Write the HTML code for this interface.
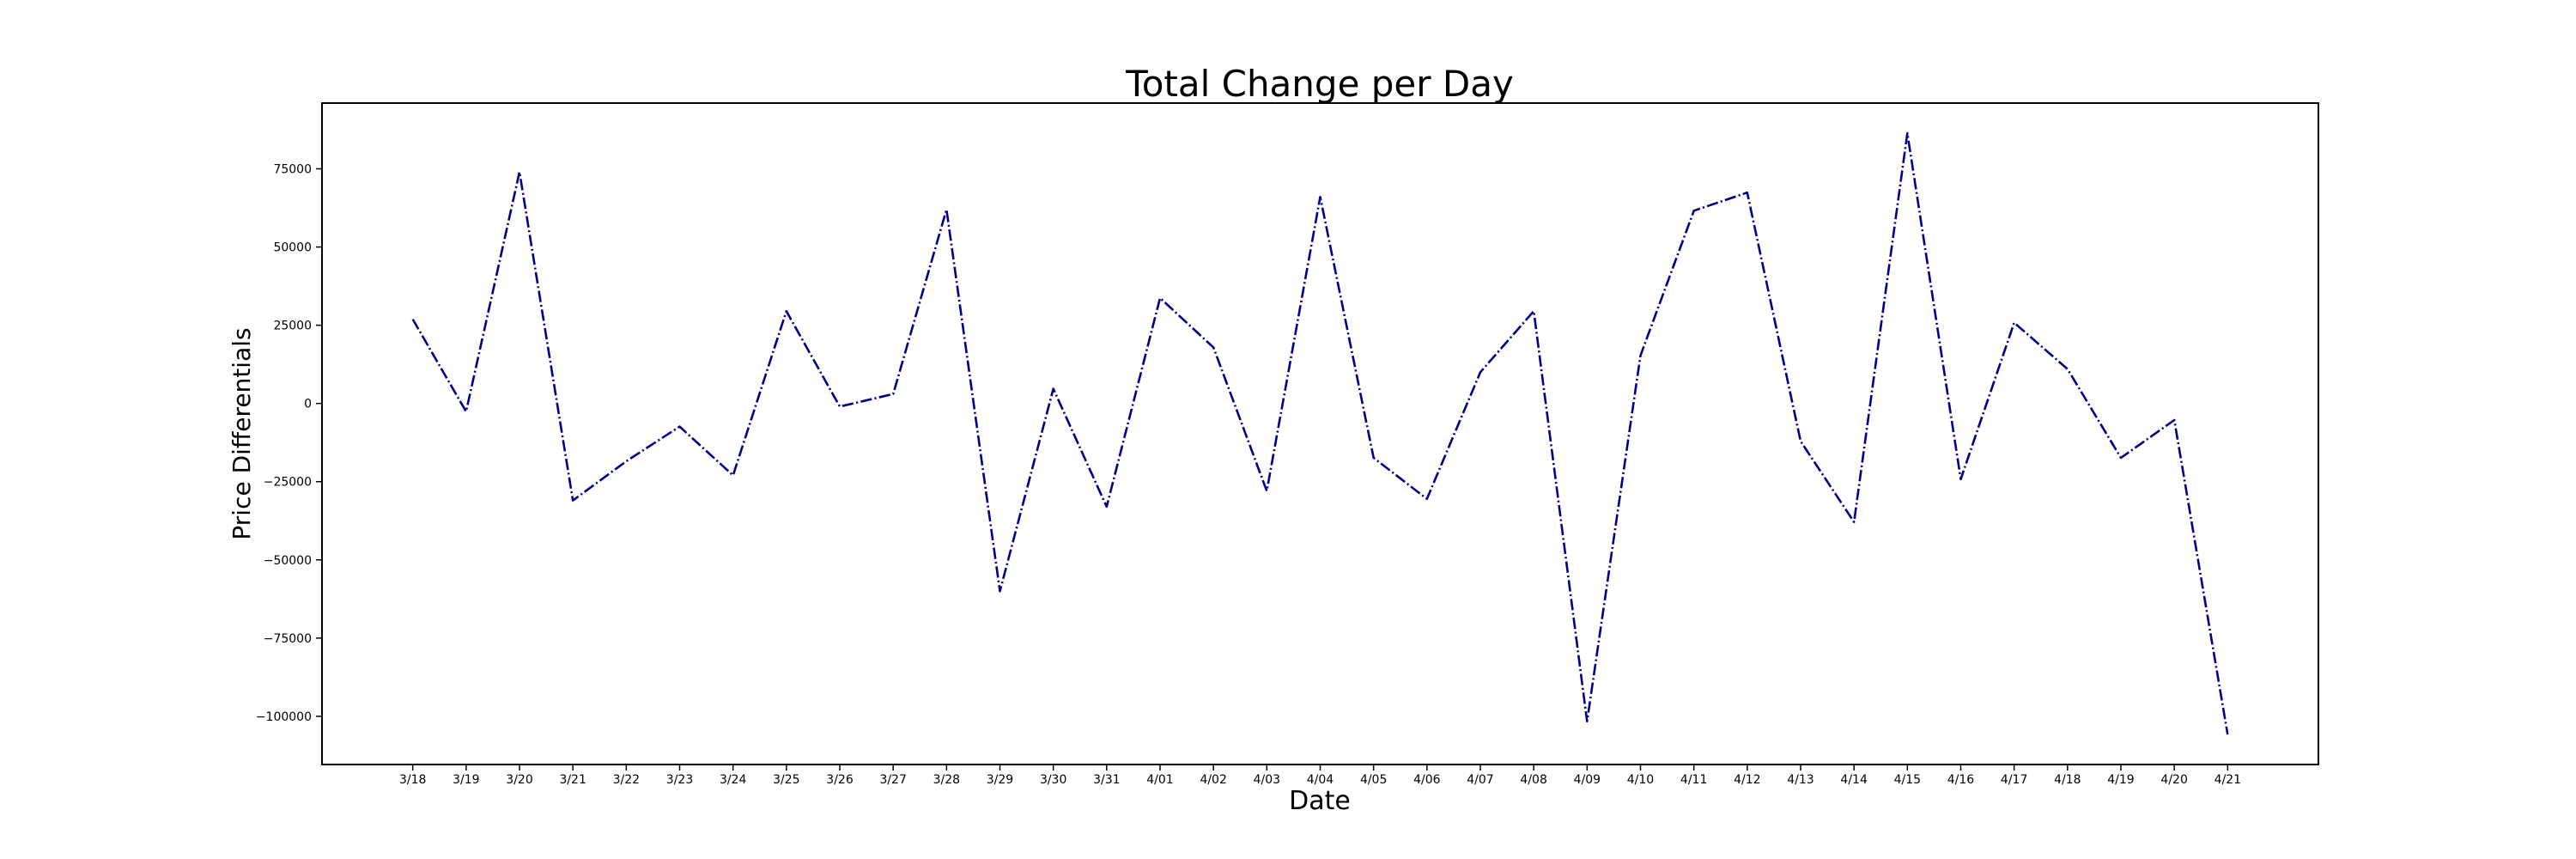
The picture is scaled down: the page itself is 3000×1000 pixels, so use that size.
<!DOCTYPE html>
<html><head><meta charset="utf-8"><style>
html,body{margin:0;padding:0;background:#fff;}
svg{display:block;font-family:"DejaVu Sans","Liberation Sans",sans-serif;}
</style></head><body>
<svg id="chart" width="3000" height="1000" viewBox="0 0 3000 1000">
<text x="1537" y="112" font-size="42" text-anchor="middle">Total Change per Day</text>
<g id="plot"></g>
<rect x="375" y="120" width="2325" height="770" fill="none" stroke="#000" stroke-width="2"/>
<text x="1537" y="942" font-size="30" text-anchor="middle">Date</text>
<text transform="translate(291,505) rotate(-90)" font-size="28" text-anchor="middle">Price Differentials</text>
</svg>
<script>
const categories = ["3/18","3/19","3/20","3/21","3/22","3/23","3/24","3/25","3/26","3/27","3/28","3/29","3/30","3/31","4/01","4/02","4/03","4/04","4/05","4/06","4/07","4/08","4/09","4/10","4/11","4/12","4/13","4/14","4/15","4/16","4/17","4/18","4/19","4/20","4/21"];
const values = [26900,-2600,74000,-31000,-18500,-7400,-23000,29500,-1000,3000,62000,-60000,4700,-33000,33700,17900,-28000,66000,-17400,-30500,10000,29500,-101600,15300,61600,67400,-12100,-37900,86400,-24200,25800,11000,-17400,-5300,-105800];
const yTicks = [-100000,-75000,-50000,-25000,0,25000,50000,75000];
const yTickLabels = ["\u2212100000","\u221275000","\u221250000","\u221225000","0","25000","50000","75000"];

const L=375,R=2700,T=120,B=890;
const n=categories.length;
const xpad=(n-1)*0.05;
function xs(i){return L+(i+xpad)/((n-1)+2*xpad)*(R-L);}
const vmin=Math.min(...values),vmax=Math.max(...values);
const ypad=(vmax-vmin)*0.05;
const y0=vmin-ypad,y1=vmax+ypad;
function ys(v){return B-(v-y0)/(y1-y0)*(B-T);}
const NS="http://www.w3.org/2000/svg";
const g=document.getElementById('plot');
function mk(tag,attrs){const e=document.createElementNS(NS,tag);for(const k in attrs)e.setAttribute(k,attrs[k]);g.appendChild(e);return e;}
yTicks.forEach((t,i)=>{
  const y=ys(t);
  const tk=mk('line',{x1:L-7,x2:L,y1:y,y2:y,stroke:'#000','stroke-width':1.5});
  
  
  const tx=mk('text',{x:L-12,y:y+5,'font-size':14,'text-anchor':'end','textLength':null});
  tx.removeAttribute('textLength');
  tx.textContent=yTickLabels[i];
  
  
});
categories.forEach((c,i)=>{
  const x=xs(i);
  const tk=mk('line',{x1:x,x2:x,y1:B,y2:B+7,stroke:'#000','stroke-width':1.5});
  
  
  const tx=mk('text',{x:x,y:B+22,'font-size':14,'text-anchor':'middle'});
  tx.textContent=c;
  
  
});
const pts=values.map((v,i)=>xs(i).toFixed(1)+','+ys(v).toFixed(1)).join(' ');
const line=mk('polyline',{points:pts,fill:'none',stroke:'#00008b','stroke-width':2.6,'stroke-dasharray':'13.3 3.3 2.1 3.3','stroke-linejoin':'round'});


</script>
</body></html>
